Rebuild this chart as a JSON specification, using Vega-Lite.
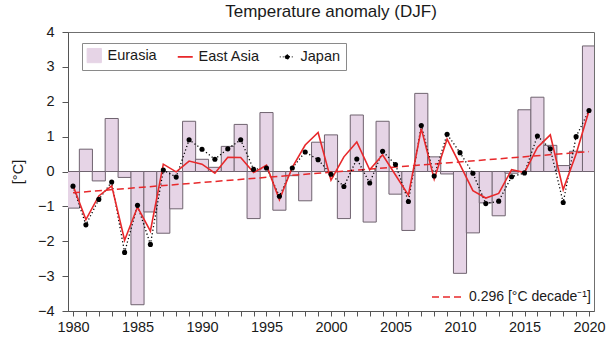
{
  "$schema": "https://vega.github.io/schema/vega-lite/v6.json",
  "autosize": {"type": "none"},
  "width": 526,
  "height": 279,
  "padding": {"left": 68, "top": 32, "right": 17, "bottom": 26},
  "config": {
    "font": "Liberation Sans",
    "view": {"stroke": "#6f6f6f", "strokeWidth": 1},
    "axis": {
      "grid": false,
      "domainColor": "#555555",
      "tickColor": "#555555",
      "labelColor": "#1a1a1a",
      "titleColor": "#1a1a1a",
      "labelFontSize": 14.5,
      "titleFontSize": 14.5,
      "titleFontWeight": "normal"
    }
  },
  "title": {
    "text": "Temperature anomaly (DJF)",
    "fontSize": 17,
    "fontWeight": "normal",
    "color": "#1a1a1a",
    "anchor": "middle",
    "offset": 3
  },
  "datasets": {
    "eurasia": [
      {"year": 1980, "series": "Eurasia", "value": -1.05},
      {"year": 1981, "series": "Eurasia", "value": 0.64},
      {"year": 1982, "series": "Eurasia", "value": -0.27},
      {"year": 1983, "series": "Eurasia", "value": 1.52},
      {"year": 1984, "series": "Eurasia", "value": -0.17},
      {"year": 1985, "series": "Eurasia", "value": -3.82},
      {"year": 1986, "series": "Eurasia", "value": -1.16},
      {"year": 1987, "series": "Eurasia", "value": -1.77},
      {"year": 1988, "series": "Eurasia", "value": -1.07},
      {"year": 1989, "series": "Eurasia", "value": 1.44},
      {"year": 1990, "series": "Eurasia", "value": 0.35},
      {"year": 1991, "series": "Eurasia", "value": 0.12},
      {"year": 1992, "series": "Eurasia", "value": 0.72},
      {"year": 1993, "series": "Eurasia", "value": 1.35},
      {"year": 1994, "series": "Eurasia", "value": -1.35},
      {"year": 1995, "series": "Eurasia", "value": 1.69},
      {"year": 1996, "series": "Eurasia", "value": -1.11},
      {"year": 1997, "series": "Eurasia", "value": -0.12},
      {"year": 1998, "series": "Eurasia", "value": -0.84},
      {"year": 1999, "series": "Eurasia", "value": 0.84},
      {"year": 2000, "series": "Eurasia", "value": 1.05},
      {"year": 2001, "series": "Eurasia", "value": -1.35},
      {"year": 2002, "series": "Eurasia", "value": 1.62},
      {"year": 2003, "series": "Eurasia", "value": -1.45},
      {"year": 2004, "series": "Eurasia", "value": 1.44},
      {"year": 2005, "series": "Eurasia", "value": -0.65},
      {"year": 2006, "series": "Eurasia", "value": -1.69},
      {"year": 2007, "series": "Eurasia", "value": 2.24},
      {"year": 2008, "series": "Eurasia", "value": 0.42},
      {"year": 2009, "series": "Eurasia", "value": -0.07},
      {"year": 2010, "series": "Eurasia", "value": -2.92},
      {"year": 2011, "series": "Eurasia", "value": -1.76},
      {"year": 2012, "series": "Eurasia", "value": -0.9},
      {"year": 2013, "series": "Eurasia", "value": -1.27},
      {"year": 2014, "series": "Eurasia", "value": -0.05},
      {"year": 2015, "series": "Eurasia", "value": 1.77},
      {"year": 2016, "series": "Eurasia", "value": 2.13},
      {"year": 2017, "series": "Eurasia", "value": 0.75},
      {"year": 2018, "series": "Eurasia", "value": 0.17},
      {"year": 2019, "series": "Eurasia", "value": 0.58},
      {"year": 2020, "series": "Eurasia", "value": 3.6}
    ],
    "eastasia": [
      {"year": 1980, "series": "East Asia", "value": -0.4},
      {"year": 1981, "series": "East Asia", "value": -1.38},
      {"year": 1982, "series": "East Asia", "value": -0.7},
      {"year": 1983, "series": "East Asia", "value": -0.41},
      {"year": 1984, "series": "East Asia", "value": -1.97},
      {"year": 1985, "series": "East Asia", "value": -1.02},
      {"year": 1986, "series": "East Asia", "value": -1.71},
      {"year": 1987, "series": "East Asia", "value": 0.21},
      {"year": 1988, "series": "East Asia", "value": -0.01},
      {"year": 1989, "series": "East Asia", "value": 0.3},
      {"year": 1990, "series": "East Asia", "value": 0.21},
      {"year": 1991, "series": "East Asia", "value": -0.05},
      {"year": 1992, "series": "East Asia", "value": 0.41},
      {"year": 1993, "series": "East Asia", "value": 0.4},
      {"year": 1994, "series": "East Asia", "value": -0.03},
      {"year": 1995, "series": "East Asia", "value": 0.18},
      {"year": 1996, "series": "East Asia", "value": -0.81},
      {"year": 1997, "series": "East Asia", "value": 0.12},
      {"year": 1998, "series": "East Asia", "value": 0.76},
      {"year": 1999, "series": "East Asia", "value": 1.12},
      {"year": 2000, "series": "East Asia", "value": -0.25},
      {"year": 2001, "series": "East Asia", "value": 0.42},
      {"year": 2002, "series": "East Asia", "value": 0.85},
      {"year": 2003, "series": "East Asia", "value": 0.05},
      {"year": 2004, "series": "East Asia", "value": 0.48},
      {"year": 2005, "series": "East Asia", "value": -0.1},
      {"year": 2006, "series": "East Asia", "value": -0.68},
      {"year": 2007, "series": "East Asia", "value": 1.23},
      {"year": 2008, "series": "East Asia", "value": -0.22},
      {"year": 2009, "series": "East Asia", "value": 0.93},
      {"year": 2010, "series": "East Asia", "value": 0.2},
      {"year": 2011, "series": "East Asia", "value": -0.55},
      {"year": 2012, "series": "East Asia", "value": -0.76},
      {"year": 2013, "series": "East Asia", "value": -0.63},
      {"year": 2014, "series": "East Asia", "value": 0.05},
      {"year": 2015, "series": "East Asia", "value": -0.03},
      {"year": 2016, "series": "East Asia", "value": 0.69},
      {"year": 2017, "series": "East Asia", "value": 1.05},
      {"year": 2018, "series": "East Asia", "value": -0.52},
      {"year": 2019, "series": "East Asia", "value": 0.5},
      {"year": 2020, "series": "East Asia", "value": 1.74}
    ],
    "japan": [
      {"year": 1980, "series": "Japan", "value": -0.42},
      {"year": 1981, "series": "Japan", "value": -1.53},
      {"year": 1982, "series": "Japan", "value": -0.8},
      {"year": 1983, "series": "Japan", "value": -0.3},
      {"year": 1984, "series": "Japan", "value": -2.32},
      {"year": 1985, "series": "Japan", "value": -0.97},
      {"year": 1986, "series": "Japan", "value": -2.09},
      {"year": 1987, "series": "Japan", "value": 0.04},
      {"year": 1988, "series": "Japan", "value": -0.16},
      {"year": 1989, "series": "Japan", "value": 0.91},
      {"year": 1990, "series": "Japan", "value": 0.64},
      {"year": 1991, "series": "Japan", "value": 0.35},
      {"year": 1992, "series": "Japan", "value": 0.65},
      {"year": 1993, "series": "Japan", "value": 0.91},
      {"year": 1994, "series": "Japan", "value": 0.06},
      {"year": 1995, "series": "Japan", "value": 0.1},
      {"year": 1996, "series": "Japan", "value": -0.71},
      {"year": 1997, "series": "Japan", "value": 0.1},
      {"year": 1998, "series": "Japan", "value": 0.56},
      {"year": 1999, "series": "Japan", "value": 0.34},
      {"year": 2000, "series": "Japan", "value": -0.08},
      {"year": 2001, "series": "Japan", "value": -0.43},
      {"year": 2002, "series": "Japan", "value": 0.36},
      {"year": 2003, "series": "Japan", "value": -0.33},
      {"year": 2004, "series": "Japan", "value": 0.58},
      {"year": 2005, "series": "Japan", "value": 0.2},
      {"year": 2006, "series": "Japan", "value": -0.86},
      {"year": 2007, "series": "Japan", "value": 1.32},
      {"year": 2008, "series": "Japan", "value": -0.13},
      {"year": 2009, "series": "Japan", "value": 1.07},
      {"year": 2010, "series": "Japan", "value": 0.54},
      {"year": 2011, "series": "Japan", "value": -0.05},
      {"year": 2012, "series": "Japan", "value": -0.92},
      {"year": 2013, "series": "Japan", "value": -0.85},
      {"year": 2014, "series": "Japan", "value": -0.15},
      {"year": 2015, "series": "Japan", "value": -0.04},
      {"year": 2016, "series": "Japan", "value": 1.02},
      {"year": 2017, "series": "Japan", "value": 0.65},
      {"year": 2018, "series": "Japan", "value": -0.89},
      {"year": 2019, "series": "Japan", "value": 1.0},
      {"year": 2020, "series": "Japan", "value": 1.75}
    ],
    "trend": [
      {"year": 1980, "trend": "0.296 [°C decade⁻¹]", "value": -0.61},
      {"year": 2020, "trend": "0.296 [°C decade⁻¹]", "value": 0.57}
    ]
  },
  "encoding": {
    "x": {
      "field": "year",
      "type": "quantitative",
      "scale": {"domain": [1980, 2020], "nice": false, "zero": false},
      "axis": {
        "title": null,
        "values": [1980,1981,1982,1983,1984,1985,1986,1987,1988,1989,1990,1991,1992,1993,1994,1995,1996,1997,1998,1999,2000,2001,2002,2003,2004,2005,2006,2007,2008,2009,2010,2011,2012,2013,2014,2015,2016,2017,2018,2019,2020],
        "labelExpr": "datum.value % 5 === 0 ? format(datum.value, 'd') : ''",
        "labelOverlap": false,
        "labelFlush": false,
        "labelBound": false,
        "tickSize": 5,
        "labelPadding": 4
      }
    },
    "y": {
      "field": "value",
      "type": "quantitative",
      "scale": {"domain": [-4, 4], "nice": false},
      "axis": {
        "title": "[°C]",
        "values": [-4, -3, -2, -1, 0, 1, 2, 3, 4],
        "tickSize": 6,
        "labelPadding": 8,
        "titlePadding": 12
      }
    }
  },
  "layer": [
    {
      "data": {"name": "eurasia"},
      "mark": {"type": "bar", "width": 13.1, "clip": true, "stroke": "#6f636f", "strokeWidth": 1, "fillOpacity": 1},
      "encoding": {
        "color": {
          "field": "series",
          "type": "nominal",
          "scale": {"domain": ["Eurasia", "East Asia", "Japan"], "range": ["#e6d4e6", "#e8282b", "#000000"]},
          "legend": {
            "title": null,
            "orient": "none",
            "direction": "horizontal",
            "legendX": 14,
            "legendY": 11,
            "padding": 5,
            "strokeColor": "#8a8a8a",
            "fillColor": "#ffffff",
            "symbolSize": 225,
            "labelFontSize": 14.5,
            "labelColor": "#1a1a1a",
            "labelOffset": 6,
            "columnPadding": 17,
            "encoding": {
              "symbols": {
                "shape": {"value": {"expr": "datum.value === 'Eurasia' ? 'M-0.95,-0.95H0.95V0.95H-0.95Z' : datum.value === 'East Asia' ? 'stroke' : 'M-1,0H1M-0.3,0A0.3,0.3 0 1,1 0.3,0A0.3,0.3 0 1,1 -0.3,0Z'"}},
                "fill": {"value": {"expr": "datum.value === 'Eurasia' ? '#e6d4e6' : datum.value === 'Japan' ? '#000000' : 'transparent'"}},
                "stroke": {"value": {"expr": "datum.value === 'Eurasia' ? '#6f636f' : datum.value === 'East Asia' ? '#e8282b' : '#000000'"}},
                "strokeWidth": {"value": {"expr": "datum.value === 'East Asia' ? 1.8 : 1"}},
                "strokeDash": {"value": {"expr": "datum.value === 'Japan' ? [1, 2] : []"}},
                "opacity": {"value": 1},
                "fillOpacity": {"value": 1}
              }
            }
          }
        }
      }
    },
    {
      "data": {"name": "trend"},
      "mark": {"type": "line", "color": "#e8282b", "strokeWidth": 1.5, "clip": true},
      "encoding": {
        "strokeDash": {
          "field": "trend",
          "type": "nominal",
          "scale": {"range": [[7, 4]]},
          "legend": {
            "title": null,
            "orient": "none",
            "legendX": 363,
            "legendY": 248,
            "padding": 0,
            "symbolType": "stroke",
            "symbolSize": 1024,
            "symbolStrokeColor": "#e8282b",
            "symbolStrokeWidth": 1.5,
            "labelFontSize": 14,
            "labelColor": "#1a1a1a",
            "labelOffset": 4
          }
        }
      }
    },
    {
      "data": {"name": "japan"},
      "mark": {"type": "line", "strokeWidth": 1.3, "strokeDash": [1.2, 2.4], "clip": true},
      "encoding": {"color": {"field": "series", "type": "nominal"}}
    },
    {
      "data": {"name": "eastasia"},
      "mark": {"type": "line", "strokeWidth": 1.6, "clip": true},
      "encoding": {"color": {"field": "series", "type": "nominal"}}
    },
    {
      "data": {"name": "japan"},
      "mark": {"type": "point", "filled": true, "size": 26, "opacity": 1, "clip": false},
      "encoding": {"color": {"field": "series", "type": "nominal"}}
    }
  ]
}
